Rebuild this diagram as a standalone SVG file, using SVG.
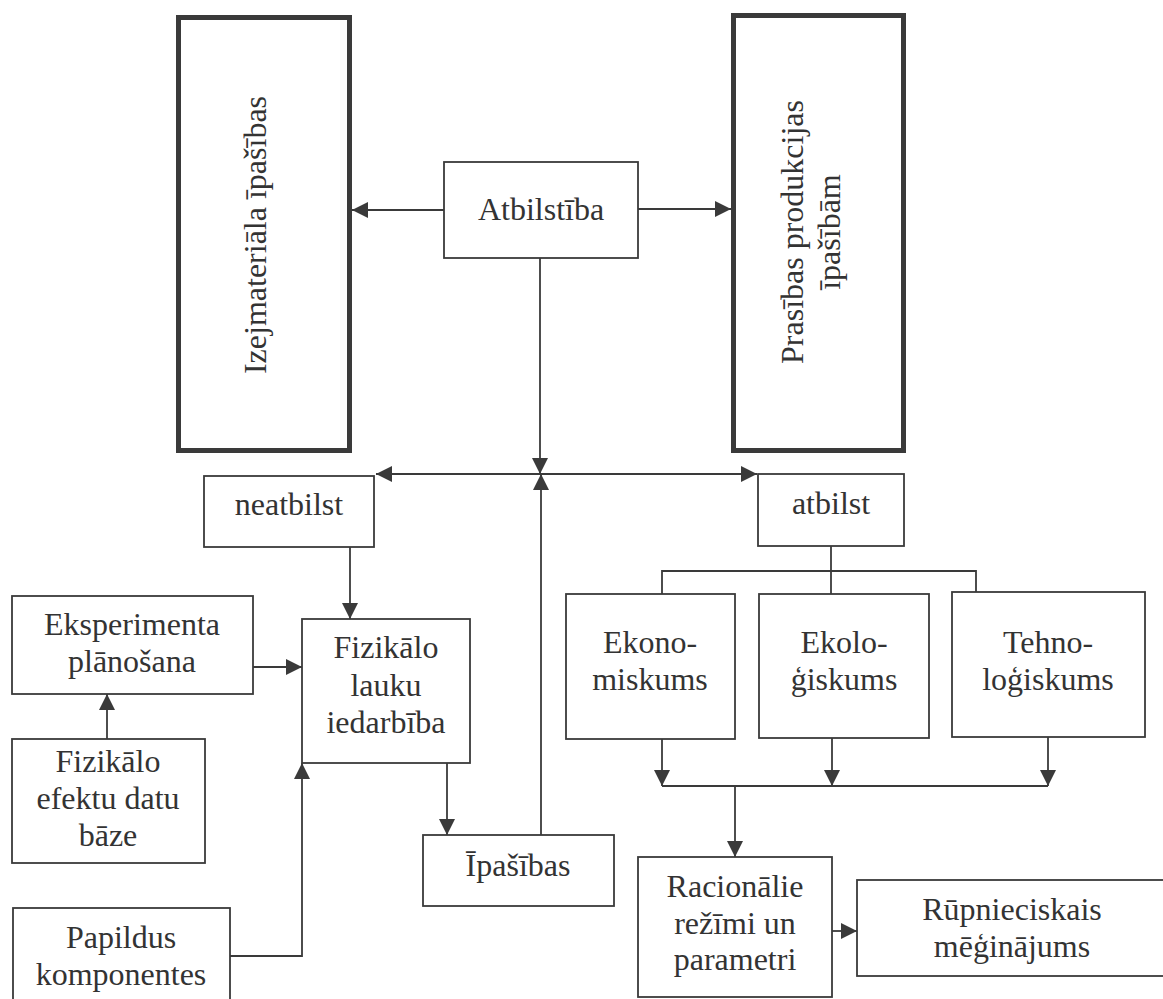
<svg xmlns="http://www.w3.org/2000/svg" width="1163" height="999" viewBox="0 0 1163 999">
<style>
.box{fill:#fff;stroke:#3a3a3a;stroke-width:1.8}
.big{fill:#fff;stroke:#3a3a3a;stroke-width:5}
.ln{fill:none;stroke:#3a3a3a;stroke-width:1.8}
</style>
<defs>
<marker id="ah" markerUnits="userSpaceOnUse" viewBox="0 0 16 16" markerWidth="16" markerHeight="16" refX="16" refY="8" orient="auto">
<path d="M0,0 L16,8 L0,16 Z" fill="#3a3a3a"/>
</marker>
</defs>
<rect width="1163" height="999" fill="#fff"/>
<g id="connectors">
<line class="ln" x1="444" y1="210" x2="352" y2="210" marker-end="url(#ah)"/>
<line class="ln" x1="638" y1="209" x2="731" y2="209" marker-end="url(#ah)"/>
<line class="ln" x1="540" y1="258" x2="540" y2="474" marker-end="url(#ah)"/>
<line class="ln" x1="541" y1="835" x2="541" y2="474" marker-end="url(#ah)"/>
<line class="ln" x1="540" y1="474" x2="376" y2="474" marker-end="url(#ah)"/>
<line class="ln" x1="540" y1="474" x2="757" y2="474" marker-end="url(#ah)"/>
<line class="ln" x1="350" y1="547" x2="350" y2="619" marker-end="url(#ah)"/>
<line class="ln" x1="447" y1="763" x2="447" y2="835" marker-end="url(#ah)"/>
<line class="ln" x1="253" y1="667" x2="302" y2="667" marker-end="url(#ah)"/>
<line class="ln" x1="107" y1="739" x2="107" y2="694" marker-end="url(#ah)"/>
<polyline class="ln" points="230,956 302,956 302,763" marker-end="url(#ah)"/>
<line class="ln" x1="831" y1="546" x2="831" y2="594"/>
<polyline class="ln" points="662,594 662,571 976,571 976,592"/>
<line class="ln" x1="662" y1="739" x2="662" y2="786" marker-end="url(#ah)"/>
<line class="ln" x1="832" y1="738" x2="832" y2="786" marker-end="url(#ah)"/>
<line class="ln" x1="1048" y1="737" x2="1048" y2="786" marker-end="url(#ah)"/>
<line class="ln" x1="662" y1="786" x2="1048" y2="786"/>
<line class="ln" x1="735" y1="786" x2="735" y2="857" marker-end="url(#ah)"/>
<line class="ln" x1="832" y1="931" x2="857" y2="931" marker-end="url(#ah)"/>
</g>
<g font-family="Liberation Serif, Times New Roman, serif" font-size="32" fill="#333" text-anchor="middle">
<g id="izejmateriala">
<rect class="big" x="178.5" y="17.5" width="171" height="433"/>
<text transform="translate(266,235) rotate(-90)">Izejmateriāla īpašības</text>
</g>
<g id="prasibas">
<rect class="big" x="733.5" y="15.5" width="170" height="435"/>
<text transform="translate(803,232) rotate(-90)">Prasības produkcijas</text>
<text transform="translate(840,232) rotate(-90)">īpašībām</text>
</g>
<g id="atbilstiba">
<rect class="box" x="444" y="162" width="194" height="96"/>
<text x="541" y="220">Atbilstība</text>
</g>
<g id="neatbilst">
<rect class="box" x="204" y="476" width="170" height="71"/>
<text x="289" y="515">neatbilst</text>
</g>
<g id="atbilst">
<rect class="box" x="758" y="474" width="146" height="72"/>
<text x="831" y="514">atbilst</text>
</g>
<g id="eksperimenta">
<rect class="box" x="12" y="596" width="241" height="98"/>
<text x="132" y="635">Eksperimenta</text>
<text x="132" y="672">plānošana</text>
</g>
<g id="fizikalo-lauku">
<rect class="box" x="302" y="619" width="168" height="144"/>
<text x="386" y="658">Fizikālo</text>
<text x="386" y="696">lauku</text>
<text x="386" y="733">iedarbība</text>
</g>
<g id="fizikalo-efektu">
<rect class="box" x="12" y="739" width="193" height="124"/>
<text x="108" y="772">Fizikālo</text>
<text x="108" y="809">efektu datu</text>
<text x="108" y="846">bāze</text>
</g>
<g id="papildus">
<rect class="box" x="13" y="908" width="217" height="110"/>
<text x="121" y="948">Papildus</text>
<text x="121" y="985">komponentes</text>
</g>
<g id="ipasibas">
<rect class="box" x="423" y="835" width="191" height="71"/>
<text x="518" y="876">Īpašības</text>
</g>
<g id="ekonomiskums">
<rect class="box" x="566" y="594" width="169" height="145"/>
<text x="650" y="653">Ekono-</text>
<text x="650" y="690">miskums</text>
</g>
<g id="ekologiskums">
<rect class="box" x="759" y="594" width="170" height="144"/>
<text x="844" y="653">Ekolo-</text>
<text x="844" y="690">ģiskums</text>
</g>
<g id="tehnologiskums">
<rect class="box" x="952" y="592" width="193" height="145"/>
<text x="1048" y="653">Tehno-</text>
<text x="1048" y="690">loģiskums</text>
</g>
<g id="racionalie">
<rect class="box" x="638" y="857" width="194" height="140"/>
<text x="735" y="897">Racionālie</text>
<text x="735" y="934">režīmi un</text>
<text x="735" y="970">parametri</text>
</g>
<g id="rupnieciskais">
<rect class="box" x="857" y="880" width="320" height="96"/>
<text x="1012" y="920">Rūpnieciskais</text>
<text x="1012" y="957">mēģinājums</text>
</g>
</g>
</svg>
